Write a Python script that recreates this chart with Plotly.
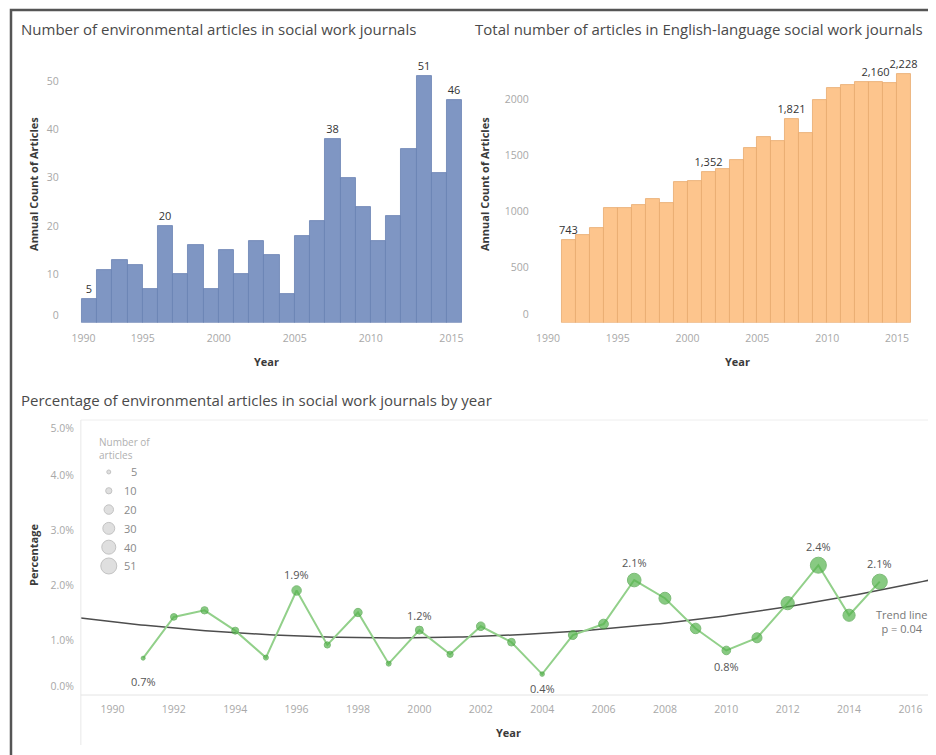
import numpy as np
import plotly.graph_objects as go

# ---------------- data ----------------
years = list(range(1991, 2016))
env_counts = [5, 11, 13, 12, 7, 20, 10, 16, 7, 15, 10, 17, 14, 6, 18, 21, 38, 30, 24, 17, 22, 36, 51, 31, 46]
total_counts = [743, 785, 845, 1024, 1024, 1054, 1108, 1072, 1263, 1272, 1352, 1377, 1460, 1562, 1660,
                1630, 1821, 1700, 1998, 2100, 2130, 2160, 2160, 2150, 2228]
pct = [0.67, 1.42, 1.54, 1.17, 0.68, 1.90, 0.91, 1.50, 0.57, 1.18, 0.74, 1.25, 0.96, 0.38, 1.09,
       1.29, 2.09, 1.76, 1.21, 0.81, 1.04, 1.67, 2.36, 1.45, 2.06]

env_label_years = [1991, 1996, 2007, 2013, 2015]
total_label_years = [1991, 2001, 2007, 2013, 2015]
pct_label_years = [1991, 1996, 2000, 2004, 2007, 2010, 2013, 2015]
pct_label_side = ["below", "above", "above", "below", "above", "below", "above", "above"]

legend_counts = [5, 10, 20, 30, 40, 51]

top_x_ticks = [1990, 1995, 2000, 2005, 2010, 2015]
env_y_ticks = [0, 10, 20, 30, 40, 50]
total_y_ticks = [0, 500, 1000, 1500, 2000]
pct_y_ticks = [0, 1, 2, 3, 4, 5]
pct_x_ticks = list(range(1990, 2017, 2))

# ---------------- style ----------------
# page body has an 8px margin: the figure is placed at (8, 8) in the 936x755 window
OFF = 8
W, H = 936 - OFF, 755 - OFF
FONT = "Open Sans"
TITLE_C = "#4a4a4a"
TICK_C = "#a8a8a8"
AX_TITLE_C = "#3a3a3a"
BLUE, BLUE_EDGE = "#7f96c3", "#6a82b2"
ORANGE, ORANGE_EDGE = "#fdc58d", "#e7aa6e"
GREEN, GREEN_EDGE, GREEN_LINE = "#56b44e", "#47a040", "#92d08a"


def px(x):
    return (x - OFF) / W


def py(y):
    return 1 - (y - OFF) / H


def msize(n):
    return 2.45 * np.sqrt(np.asarray(n, dtype=float)) - 1.5


fig = go.Figure()

# ---- top-left bars ----
env_text = [str(v) if y in env_label_years else "" for y, v in zip(years, env_counts)]
fig.add_trace(go.Bar(
    x=years, y=env_counts, width=1, offset=0,
    marker=dict(color=BLUE, line=dict(color=BLUE_EDGE, width=0.8)),
    text=env_text, textposition="outside", constraintext="none", cliponaxis=False,
    textfont=dict(family=FONT, size=11, color="#333"),
    xaxis="x", yaxis="y", showlegend=False, hoverinfo="x+y"))

# ---- top-right bars ----
tot_text = [f"{v:,}" if y in total_label_years else "" for y, v in zip(years, total_counts)]
fig.add_trace(go.Bar(
    x=years, y=total_counts, width=1, offset=0,
    marker=dict(color=ORANGE, line=dict(color=ORANGE_EDGE, width=0.8)),
    text=tot_text, textposition="outside", constraintext="none", cliponaxis=False,
    textfont=dict(family=FONT, size=11, color="#333"),
    xaxis="x2", yaxis="y2", showlegend=False, hoverinfo="x+y"))

# ---- bottom: trend line (quadratic fit) ----
coef = np.polyfit(years, pct, 2)
tx = np.linspace(1988.97, 2016.8, 200)
fig.add_trace(go.Scatter(
    x=tx, y=np.polyval(coef, tx), mode="lines",
    line=dict(color="#4d4d4d", width=1.5),
    xaxis="x3", yaxis="y3", showlegend=False, hoverinfo="skip"))

# ---- bottom: percentage line + sized markers ----
fig.add_trace(go.Scatter(
    x=years, y=pct, mode="lines+markers",
    line=dict(color=GREEN_LINE, width=2),
    marker=dict(color=GREEN, size=msize(env_counts), line=dict(color=GREEN_EDGE, width=1)),
    xaxis="x3", yaxis="y3", showlegend=False, cliponaxis=False))

# ---- size legend ----
fig.add_trace(go.Scatter(
    x=[108] * len(legend_counts), y=list(range(len(legend_counts))), mode="markers",
    marker=dict(color="#d2d2d2", size=msize(legend_counts), line=dict(color="#aaaaaa", width=1)),
    xaxis="x4", yaxis="y4", showlegend=False, hoverinfo="skip", cliponaxis=False))

annotations = []
for i, n in enumerate(legend_counts):
    annotations.append(dict(x=138, y=i, xref="x4", yref="y4", text=str(n), showarrow=False,
                            xanchor="right", yanchor="middle",
                            font=dict(family=FONT, size=11, color="#8a8a8a")))
annotations.append(dict(x=px(96), y=py(448), xref="paper", yref="paper",
                        text="Number of<br>articles", showarrow=False, align="left",
                        xanchor="left", yanchor="middle",
                        font=dict(family=FONT, size=10, color="#b0b0b0")))

# labels on percentage points
for yr, side in zip(pct_label_years, pct_label_side):
    i = years.index(yr)
    r = float(msize(env_counts[i])) / 2
    shift = (r + 11) if side == "above" else -(r + 12)
    if yr == 1991:
        shift = -23
    annotations.append(dict(x=yr, y=pct[i], xref="x3", yref="y3", text=f"{pct[i]:.1f}%",
                            showarrow=False, yshift=shift, xanchor="center", yanchor="middle",
                            font=dict(family=FONT, size=11, color="#555")))

annotations.append(dict(x=px(903), y=py(621), xref="paper", yref="paper",
                        text="Trend line<br>p = 0.04", showarrow=False, align="center",
                        xanchor="center", yanchor="middle",
                        font=dict(family=FONT, size=11, color="#777")))

# chart titles
for text, x, y in [("Number of environmental articles in social work journals", 18, 29),
                   ("Total number of articles in English-language social work journals", 473, 29),
                   ("Percentage of environmental articles in social work journals by year", 18, 400)]:
    annotations.append(dict(x=px(x), y=py(y), xref="paper", yref="paper", text=text,
                            showarrow=False, xanchor="left", yanchor="middle",
                            font=dict(family=FONT, size=15, color=TITLE_C)))

# axis titles
for text, x, y, ang in [("Annual Count of Articles", 32, 184, -90),
                        ("Annual Count of Articles", 484, 184, -90),
                        ("Percentage", 32, 555, -90),
                        ("Year", 266, 361, 0),
                        ("Year", 738, 361, 0),
                        ("Year", 509, 732, 0)]:
    annotations.append(dict(x=px(x), y=py(y), xref="paper", yref="paper", text=f"<b>{text}</b>",
                            showarrow=False, textangle=ang, xanchor="center", yanchor="middle",
                            font=dict(family=FONT, size=11, color=AX_TITLE_C)))

tickfont = dict(family=FONT, size=10.5, color=TICK_C)
common = dict(showgrid=False, zeroline=False, showline=False, tickfont=tickfont, ticks="")

shapes = [
    # outer frame (top and left edges visible)
    dict(type="rect", xref="paper", yref="paper", x0=px(10), x1=px(960), y0=py(10), y1=py(780),
         line=dict(color="#555", width=2.5), fillcolor="rgba(0,0,0,0)", layer="above"),
    # bottom pane lines
    dict(type="line", xref="paper", yref="paper", x0=px(80), x1=px(936), y0=py(420), y1=py(420),
         line=dict(color="#eeeeee", width=1)),
    dict(type="line", xref="paper", yref="paper", x0=px(80), x1=px(80), y0=py(420), y1=py(745),
         line=dict(color="#e8e8e8", width=1)),
    dict(type="line", xref="paper", yref="paper", x0=px(80), x1=px(936), y0=py(695), y1=py(695),
         line=dict(color="#e4e4e4", width=1)),
]

fig.update_layout(
    width=W, height=H, margin=dict(l=0, r=0, t=0, b=0),
    paper_bgcolor="white", plot_bgcolor="white",
    font=dict(family=FONT),
    bargap=0,
    xaxis=dict(domain=[px(62), px(462)], range=[1989.75, 2016], anchor="y",
               tickvals=[1991.1, 1995, 2000, 2005, 2010, 2015.3], ticktext=[str(t) for t in top_x_ticks],
               ticklabelstandoff=8, **common),
    yaxis=dict(domain=[py(322.7), py(57)], range=[0, 55], anchor="x",
               tickvals=[1.6] + env_y_ticks[1:], ticktext=[str(t) for t in env_y_ticks],
               ticklabelstandoff=3, **common),
    xaxis2=dict(domain=[px(537), px(916)], range=[1989.2, 2016.3], anchor="y2",
                tickvals=top_x_ticks, ticktext=[str(t) for t in top_x_ticks],
                ticklabelstandoff=8, **common),
    yaxis2=dict(domain=[py(322.7), py(57)], range=[0, 2380], anchor="x2",
                tickvals=[72] + total_y_ticks[1:], ticktext=[str(t) for t in total_y_ticks],
                ticklabelstandoff=7, **common),
    xaxis3=dict(domain=[px(80), 1.0], range=[1988.97, 2016.8], anchor="y3",
                tickvals=pct_x_ticks, ticktext=[str(t) for t in pct_x_ticks],
                ticklabelstandoff=6, **common),
    yaxis3=dict(domain=[py(695), py(420)], range=[0, 5], anchor="x3",
                tickvals=[0.15, 1, 2, 3, 4, 4.85], ticktext=[f"{t:.1f}%" for t in pct_y_ticks],
                ticklabelstandoff=6, **common),
    xaxis4=dict(domain=[px(95), px(150)], range=[95, 150], anchor="y4", visible=False),
    yaxis4=dict(domain=[py(575), py(462)], range=[5.48, -0.53], anchor="x4", visible=False),
    annotations=annotations,
    shapes=shapes,
)

fig.write_html("out.html")
